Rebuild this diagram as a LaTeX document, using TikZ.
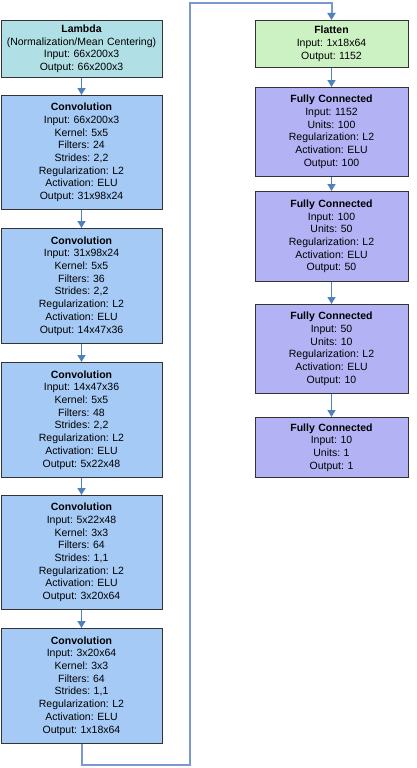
\documentclass[tikz,border=0pt]{standalone}
\usepackage{fontspec}
\setmainfont{Liberation Sans}
\usepackage{xcolor}
\usetikzlibrary{arrows.meta}
\frenchspacing

\definecolor{lambdafill}{RGB}{176,224,230}
\definecolor{convfill}{RGB}{166,202,246}
\definecolor{flatfill}{RGB}{204,242,196}
\definecolor{fcfill}{RGB}{178,178,245}
\definecolor{linkblue}{RGB}{79,129,189}
\definecolor{wireblue}{RGB}{122,152,206}

\begin{document}
\begin{tikzpicture}[x=1pt,y=-1pt]
\useasboundingbox (0,0) rectangle (417,768);
\begin{scope}[every node/.style={draw=black!80,line width=0.8pt,anchor=north,
              align=center,inner sep=0pt,font=\fontsize{10.5}{12.7}\selectfont}]
    \node[fill=lambdafill,text width=161pt,minimum height=57pt] (lam) at (81.5,20)
      {\textbf{Lambda}\\(Normalization/Mean Centering)\\Input: 66x200x3\\Output: 66x200x3};
    \node[fill=convfill,text width=161pt,minimum height=114pt] (c1) at (81.5,95)
      {\textbf{Convolution}\\Input: 66x200x3\\Kernel: 5x5\\Filters: 24\\Strides: 2,2\\Regularization: L2\\Activation: ELU\\Output: 31x98x24};
    \node[fill=convfill,text width=161pt,minimum height=115pt] (c2) at (81.5,228)
      {\textbf{Convolution}\\Input: 31x98x24\\Kernel: 5x5\\Filters: 36\\Strides: 2,2\\Regularization: L2\\Activation: ELU\\Output: 14x47x36};
    \node[fill=convfill,text width=161pt,minimum height=115pt] (c3) at (81.5,362)
      {\textbf{Convolution}\\Input: 14x47x36\\Kernel: 5x5\\Filters: 48\\Strides: 2,2\\Regularization: L2\\Activation: ELU\\Output: 5x22x48};
    \node[fill=convfill,text width=161pt,minimum height=114pt] (c4) at (81.5,495)
      {\textbf{Convolution}\\Input: 5x22x48\\Kernel: 3x3\\Filters: 64\\Strides: 1,1\\Regularization: L2\\Activation: ELU\\Output: 3x20x64};
    \node[fill=convfill,text width=161pt,minimum height=115pt] (c5) at (81.5,628)
      {\textbf{Convolution}\\Input: 3x20x64\\Kernel: 3x3\\Filters: 64\\Strides: 1,1\\Regularization: L2\\Activation: ELU\\Output: 1x18x64};
    \node[fill=flatfill,text width=153pt,minimum height=47pt] (flat) at (331.5,20)
      {\textbf{Flatten}\\Input: 1x18x64\\Output: 1152};
    \node[fill=fcfill,text width=153pt,minimum height=89pt] (fc1) at (331.5,87)
      {\textbf{Fully Connected}\\Input: 1152\\Units: 100\\Regularization: L2\\Activation: ELU\\Output: 100};
    \node[fill=fcfill,text width=153pt,minimum height=90pt] (fc2) at (331.5,191)
      {\textbf{Fully Connected}\\Input: 100\\Units: 50\\Regularization: L2\\Activation: ELU\\Output: 50};
    \node[fill=fcfill,text width=153pt,minimum height=89pt] (fc3) at (331.5,304)
      {\textbf{Fully Connected}\\Input: 50\\Units: 10\\Regularization: L2\\Activation: ELU\\Output: 10};
    \node[fill=fcfill,text width=153pt,minimum height=60pt] (fc4) at (331.5,417)
      {\textbf{Fully Connected}\\Input: 10\\Units: 1\\Output: 1};
\end{scope}
\coordinate (turnlow) at (190,765);
\coordinate (turnhigh) at (190,3);
\begin{scope}[>={Triangle[length=7pt,width=8pt,linkblue]},
              every edge/.style={draw=linkblue,line width=1.5pt}]
    \path [->] (lam) edge (c1);
    \path [->] (c1) edge (c2);
    \path [->] (c2) edge (c3);
    \path [->] (c3) edge (c4);
    \path [->] (c4) edge (c5);
    \path [->] (flat) edge (fc1);
    \path [->] (fc1) edge (fc2);
    \path [->] (fc2) edge (fc3);
    \path [->] (fc3) edge (fc4);
    \draw [->,wireblue,line width=2pt] (c5.south) |- (turnlow) -- (turnhigh) -| (flat.north);
\end{scope}
\end{tikzpicture}
\end{document}
